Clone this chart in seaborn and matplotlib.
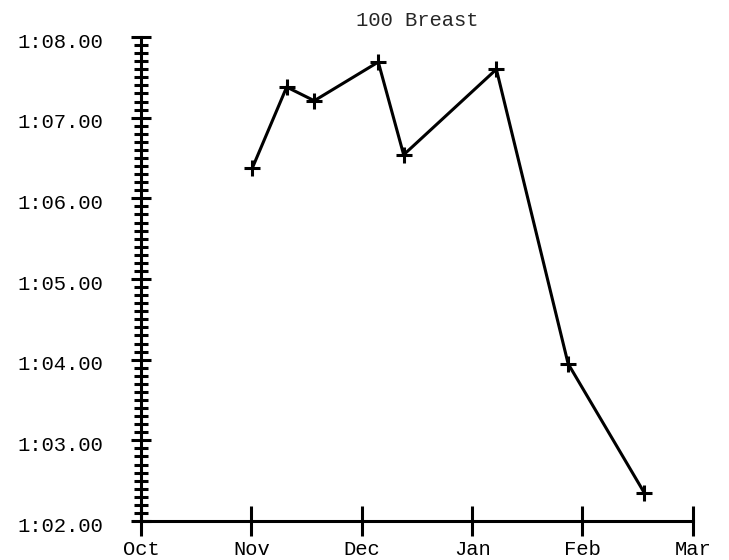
#!/usr/bin/env python3

import numpy as np
import pandas as pd
import matplotlib
matplotlib.use("Agg")
import matplotlib.pyplot as plt
import matplotlib.ticker as mticker
import matplotlib.transforms as mtransforms
import seaborn as sns

# x position in months after 1 Oct, time in seconds
months = [1.01, 1.32, 1.57, 2.15, 2.38, 3.22, 3.87, 4.56]
times = [66.38, 67.38, 67.21, 67.69, 66.54, 67.60, 63.95, 62.35]
month_labels = ["Oct", "Nov", "Dec", "Jan", "Feb", "Mar"]
title = "100 Breast"


def fmt_time(v, pos=None):
    m = int(v // 60)
    s = v - 60 * m
    return "{}:{:05.2f}".format(m, s)


def main():
    sns.set_style("ticks")
    plt.rcParams['font.family'] = ['Liberation Mono', 'DejaVu Sans Mono']

    df = pd.DataFrame({"month": months, "time": times})

    fig = plt.figure(figsize=(7.29, 5.6), dpi=100)
    ax = fig.add_axes([0.1934, 0.0696, 0.757, 0.8643])

    sns.lineplot(data=df, x="month", y="time", color="black", linewidth=2.2,
                 marker="+", markersize=11, markeredgewidth=2.2,
                 markeredgecolor="black", ax=ax)

    ax.set_xlim(0, 5)
    ax.set_ylim(62, 68)
    ax.set_xticks(np.arange(len(month_labels)))
    ax.set_xticklabels(month_labels)
    ax.yaxis.set_major_locator(mticker.MultipleLocator(1))
    ax.yaxis.set_minor_locator(mticker.MultipleLocator(0.1))
    ax.yaxis.set_major_formatter(mticker.FuncFormatter(fmt_time))

    ax.set_xlabel("")
    ax.set_ylabel("")
    ax.set_title(title, fontsize=14.8, pad=8)

    sns.despine(ax=ax)
    for sp in ["left", "bottom"]:
        ax.spines[sp].set_linewidth(2.2)
        ax.spines[sp].set_color("black")

    ax.tick_params(axis="x", which="major", direction="inout", length=21,
                   width=2.2, labelsize=14.8, pad=3, colors="black")
    ax.tick_params(axis="y", which="major", direction="inout", length=14,
                   width=2.2, labelsize=14.8, pad=20, colors="black")
    ax.tick_params(axis="y", which="minor", direction="inout", length=9.5,
                   width=2.2, colors="black")

    # the labels in the reference sit a little below their ticks
    shift = mtransforms.ScaledTranslation(0, -3 / 100, fig.dpi_scale_trans)
    for lab in ax.get_yticklabels():
        lab.set_transform(lab.get_transform() + shift)

    fig.savefig("out.png", dpi=100)


if __name__ == '__main__':
    main()
